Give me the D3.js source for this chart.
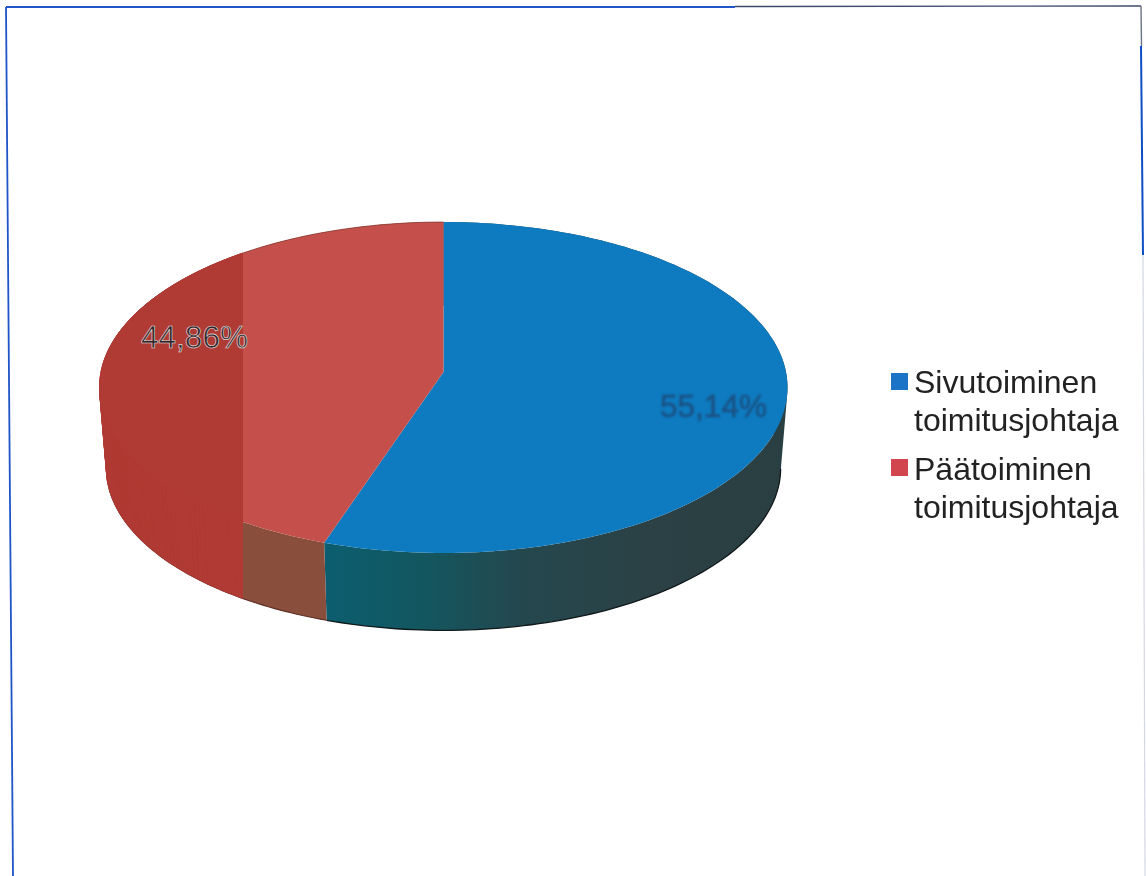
<!DOCTYPE html>
<html>
<head>
<meta charset="utf-8">
<script src="https://cdn.jsdelivr.net/npm/d3@7/dist/d3.min.js"></script>
<style>
html, body { margin: 0; padding: 0; background: #fff; }
svg { display: block; }
text { font-family: "Liberation Sans", Arial, sans-serif; }
</style>
</head>
<body>
<svg id="vis" width="1146" height="876"></svg>
<script>
const categories = ['Sivutoiminen toimitusjohtaja', 'Päätoiminen toimitusjohtaja'];
const values = [55.14, 44.86];
const valueLabels = ['55,14%', '44,86%'];
const topColors = ['#0e7abf', '#c5504b'];
const legendLines = [['Sivutoiminen', 'toimitusjohtaja'], ['Päätoiminen', 'toimitusjohtaja']];
const legendColors = ['#1c74c6', '#d2454f'];

const width = 1146;
const height = 876;
const svg = d3.select('#vis').attr('viewBox', `0 0 ${width} ${height}`);
const defs = svg.append('defs');

// the disc is tilted in perspective, so its centre sits above the middle of the ellipse
const cx = 443.5;
const apexY = 372;
const radiusX = 342.5;
const radiusY = 164;
const tilt = 0.0937;
const depthShift = 81;
const depthScale = 0.98;

function project(angle, scale, shift) {
  const u = Math.sin(angle);
  const v = -Math.cos(angle);
  const p = 1 - tilt * v;
  return [cx + scale * radiusX * u / p, apexY + shift + scale * radiusY * v / p];
}

const pie = d3.pie().sort(null);
const slices = pie(values);
const line = d3.line();

function rim(slice, scale, shift) {
  const steps = 160;
  const angle = d3.scaleLinear().domain([0, steps]).range([slice.startAngle, slice.endAngle]);
  return d3.range(steps + 1).map(i => project(angle(i), scale, shift));
}
function topPath(slice) {
  return line([[cx, apexY], ...rim(slice, 1, 0)]) + 'Z';
}
// one quad per step, all wound the same way so nonzero fill never cancels
function wallPath(slice) {
  const a = rim(slice, 1, 0);
  const b = rim(slice, depthScale, depthShift);
  return d3.range(a.length - 1).map(i => {
    const quad = [a[i], a[i + 1], b[i + 1], b[i]];
    if (d3.polygonArea(quad) < 0) quad.reverse();
    return line(quad) + 'Z';
  }).join('');
}
// only the front of the foot rim can be seen
function footPath(slice) {
  return line(rim(slice, depthScale, depthShift).filter(p => p[1] > apexY + depthShift + 15));
}

// blue side fades from teal to a dark slate towards the right
const wallGrad = defs.append('linearGradient').attr('id', 'wallBlue')
  .attr('gradientUnits', 'userSpaceOnUse')
  .attr('x1', 323).attr('x2', 785).attr('y1', 0).attr('y2', 0);
wallGrad.selectAll('stop')
  .data([[0, '#0b5e70'], [0.22, '#13565f'], [0.42, '#24484f'], [0.7, '#2b4145'], [1, '#2a3f42']])
  .join('stop')
  .attr('offset', d => d[0])
  .attr('stop-color', d => d[1]);

// everything left of this line is flat darker red in the original
defs.append('clipPath').attr('id', 'leftBand')
  .append('rect').attr('x', 0).attr('y', 0).attr('width', 243).attr('height', height);

const chart = svg.append('g').attr('class', 'chart');

chart.append('path').attr('d', wallPath(slices[0])).attr('fill', 'url(#wallBlue)');
chart.append('path').attr('d', wallPath(slices[1])).attr('fill', '#8a4f3c');

// thin black edge along the foot of the side
chart.append('path').attr('d', footPath(slices[0]))
  .attr('fill', 'none').attr('stroke', '#10181a').attr('stroke-width', 1.3);
chart.append('path').attr('d', footPath(slices[1]))
  .attr('fill', 'none').attr('stroke', '#5e2e22').attr('stroke-width', 1.1);

chart.selectAll('path.top').data(slices).join('path')
  .attr('class', 'top')
  .attr('d', topPath)
  .attr('fill', (d, i) => topColors[i]);
chart.append('path').attr('d', line(rim(slices[1], 1, 0).filter(p => p[1] < apexY)))
  .attr('fill', 'none').attr('stroke', '#8a3a34').attr('stroke-width', 0.8);

// stroked in its own colour so no seam shows between side and top
const band = chart.append('g').attr('clip-path', 'url(#leftBand)');
band.append('path').attr('d', wallPath(slices[1]))
  .attr('fill', '#b03a34').attr('stroke', '#b03a34').attr('stroke-width', 0.8);
band.append('path').attr('d', topPath(slices[1]))
  .attr('fill', '#b03a34').attr('stroke', '#b03a34').attr('stroke-width', 0.8);

// value labels
chart.append('text').attr('x', 713.5).attr('y', 417).attr('text-anchor', 'middle')
  .attr('font-size', 31.5).attr('fill', '#1a5285').attr('stroke', '#1a5285').attr('stroke-width', 0.5)
  .style('filter', 'blur(0.9px)')
  .text(valueLabels[0]);
chart.append('text').attr('x', 194.5).attr('y', 348).attr('text-anchor', 'middle')
  .attr('font-size', 31.5).attr('fill', '#33262a').attr('stroke', '#e6e2e2').attr('stroke-width', 0.6)
  .text(valueLabels[1]);

// legend
const legendTop = [373, 459];
const legendBase = [393, 480];
const legend = svg.append('g').attr('class', 'legend');
categories.forEach((c, i) => {
  const g = legend.append('g').attr('class', 'entry').attr('data-name', c);
  g.append('rect').attr('x', 891).attr('y', legendTop[i]).attr('width', 17).attr('height', 17)
    .attr('fill', legendColors[i]);
  g.selectAll('text').data(legendLines[i]).join('text')
    .attr('x', 914)
    .attr('y', (d, j) => legendBase[i] + j * 38)
    .attr('font-size', 32)
    .attr('fill', '#222')
    .style('filter', 'blur(0.4px)')
    .text(d => d);
});

// scanned frame, slightly skewed
const frame = svg.append('g').attr('class', 'frame').attr('fill', 'none');
frame.append('path').attr('d', line([[6, 7], [13, 876]])).attr('stroke', '#1f55c8').attr('stroke-width', 1.8);
frame.append('path').attr('d', line([[6, 7], [735, 7]])).attr('stroke', '#1f55c8').attr('stroke-width', 1.8);
frame.append('path').attr('d', line([[735, 6.5], [1141, 6]])).attr('stroke', '#3d4a6e').attr('stroke-width', 1.4);
frame.append('path').attr('d', line([[1141, 6], [1141.5, 46]])).attr('stroke', '#6a7285').attr('stroke-width', 1.4);
frame.append('path').attr('d', line([[1141, 46], [1143, 255]])).attr('stroke', '#0f4fc4').attr('stroke-width', 2);
frame.append('path').attr('d', line([[1143, 255], [1145, 876]])).attr('stroke', '#d4d8e4').attr('stroke-width', 1.2);
</script>
</body>
</html>
